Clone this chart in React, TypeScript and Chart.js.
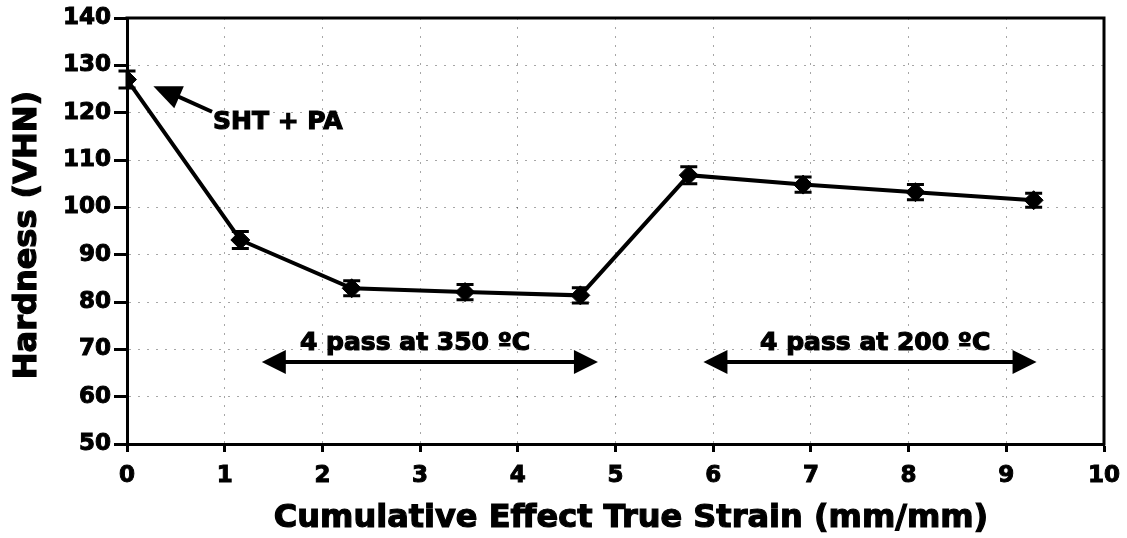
import React, { useEffect, useRef } from "react";
import { Chart, registerables } from "chart.js";

Chart.register(...registerables);

const strain = [0, 1.16, 2.3, 3.46, 4.64, 5.75, 6.92, 8.07, 9.28];
const hardness = [127, 93.1, 82.9, 82.1, 81.4, 106.8, 104.8, 103.2, 101.5];
const hardnessError = [1.8, 1.8, 1.6, 1.6, 1.6, 1.8, 1.6, 1.6, 1.5];
const xTickValues = [0, 1, 2, 3, 4, 5, 6, 7, 8, 9, 10];
const yTickValues = [50, 60, 70, 80, 90, 100, 110, 120, 130, 140];

const xAxisTitle = "Cumulative Effect True Strain (mm/mm)";
const yAxisTitle = "Hardness (VHN)";
const annotationTexts = ["SHT + PA", "4 pass at 350 ºC", "4 pass at 200 ºC"];

const FONT = "'DejaVu Sans', 'Liberation Sans', Arial, sans-serif";

const heavyText = (ctx: any, text: string, x: number, y: number) => {
  ctx.fillText(text, x, y);
  ctx.strokeText(text, x, y);
};

const frameAndErrors = {
  id: "frameAndErrors",
  beforeDatasetsDraw(chart: any) {
    const { ctx, scales } = chart;
    const xs = scales.x;
    const ys = scales.y;
    ctx.save();
    ctx.strokeStyle = "#000";
    ctx.lineWidth = 3;
    strain.forEach((sx, i) => {
      const px = xs.getPixelForValue(sx);
      const top = ys.getPixelForValue(hardness[i] + hardnessError[i]);
      const bot = ys.getPixelForValue(hardness[i] - hardnessError[i]);
      ctx.beginPath();
      ctx.moveTo(px, top);
      ctx.lineTo(px, bot);
      ctx.moveTo(px - 8.5, top);
      ctx.lineTo(px + 8.5, top);
      ctx.moveTo(px - 8.5, bot);
      ctx.lineTo(px + 8.5, bot);
      ctx.stroke();
    });
    ctx.restore();
  },
  afterDraw(chart: any) {
    const { ctx, chartArea, scales } = chart;
    const xs = scales.x;
    const ys = scales.y;
    ctx.save();
    ctx.strokeStyle = "#000";
    ctx.lineWidth = 3;
    ctx.beginPath();
    ctx.moveTo(chartArea.left - 1.5, chartArea.top);
    ctx.lineTo(chartArea.right, chartArea.top);
    ctx.lineTo(chartArea.right, chartArea.bottom + 1.5);
    ctx.stroke();

    const px = (v: number) => xs.getPixelForValue(v);
    const py = (v: number) => ys.getPixelForValue(v);

    const head = (tx: number, ty: number, fx: number, fy: number, len: number, half: number) => {
      const ang = Math.atan2(ty - fy, tx - fx);
      const bx = tx - len * Math.cos(ang);
      const by = ty - len * Math.sin(ang);
      ctx.beginPath();
      ctx.moveTo(tx, ty);
      ctx.lineTo(bx + half * Math.sin(ang), by - half * Math.cos(ang));
      ctx.lineTo(bx - half * Math.sin(ang), by + half * Math.cos(ang));
      ctx.closePath();
      ctx.fill();
    };

    ctx.fillStyle = "#000";
    ctx.lineWidth = 4;

    const t1x = px(0.27), t1y = py(125.6);
    const f1x = px(0.87), f1y = py(120.2);
    ctx.beginPath();
    ctx.moveTo(f1x, f1y);
    ctx.lineTo(t1x + 15, t1y + 6);
    ctx.stroke();
    head(t1x, t1y, f1x, f1y, 28, 12);

    const dbl = (x1: number, x2: number, yv: number) => {
      const a = px(x1), b = px(x2), y = py(yv);
      ctx.beginPath();
      ctx.moveTo(a + 10, y);
      ctx.lineTo(b - 10, y);
      ctx.stroke();
      head(a, y, b, y, 24, 12);
      head(b, y, a, y, 24, 12);
    };
    dbl(1.38, 4.82, 67.3);
    dbl(5.9, 9.31, 67.3);

    ctx.textBaseline = "middle";
    ctx.textAlign = "left";
    ctx.lineWidth = 1.2;
    ctx.font = `bold 25px ${FONT}`;
    heavyText(ctx, annotationTexts[0], px(0.88), py(118.0));
    heavyText(ctx, annotationTexts[1], px(1.77), py(71.3));
    heavyText(ctx, annotationTexts[2], px(6.48), py(71.3));

    ctx.textAlign = "center";
    ctx.font = `bold 32px ${FONT}`;
    heavyText(ctx, xAxisTitle, 631, 519);
    ctx.translate(28, (chartArea.top + chartArea.bottom) / 2 + 4);
    ctx.rotate(-Math.PI / 2);
    heavyText(ctx, yAxisTitle, 0, 0);
    ctx.restore();
  },
};

export default function App() {
  const ref = useRef<HTMLCanvasElement | null>(null);
  useEffect(() => {
    document.body.style.margin = "0";
    const canvas = ref.current;
    if (!canvas) return;
    const gridOpts = {
      color: "rgba(0,0,0,0.35)",
      lineWidth: 1,
      tickColor: "#000",
      tickWidth: 3,
      tickBorderDash: [],
    };
    const tickFont = { family: FONT, size: 23, weight: "bold" as const };
    const chart = new Chart(canvas, {
      type: "line",
      data: {
        datasets: [
          {
            data: strain.map((x, i) => ({ x, y: hardness[i] })),
            borderColor: "#000",
            backgroundColor: "#000",
            borderWidth: 4,
            pointStyle: "rectRot",
            pointRadius: 9.5,
            pointBackgroundColor: "#000",
            pointBorderColor: "#000",
            pointBorderWidth: 1,
            tension: 0,
          },
        ],
      },
      options: {
        responsive: false,
        animation: false,
        events: [],
        layout: { padding: { top: 18, right: 23, left: 0, bottom: 0 } },
        plugins: { legend: { display: false }, tooltip: { enabled: false } },
        scales: {
          x: {
            type: "linear",
            min: 0,
            max: 10,
            afterBuildTicks: (axis: any) => {
              axis.ticks = xTickValues.map((v) => ({ value: v }));
            },
            afterFit: (axis: any) => {
              axis.height = 94;
              axis.paddingLeft = 0;
              axis.paddingRight = 0;
            },
            grid: { ...gridOpts, tickLength: 8 },
            border: { display: true, color: "#000", width: 3, dash: [2, 7] },
            ticks: {
              color: "#000",
              font: tickFont,
              padding: 10,
              maxRotation: 0,
              autoSkip: false,
              textStrokeColor: "#000",
              textStrokeWidth: 1,
            },
            title: { display: false },
          },
          y: {
            type: "linear",
            min: 50,
            max: 140,
            afterBuildTicks: (axis: any) => {
              axis.ticks = yTickValues.map((v) => ({ value: v }));
            },
            afterFit: (axis: any) => {
              axis.width = 127;
            },
            grid: { ...gridOpts, tickLength: 13 },
            border: { display: true, color: "#000", width: 3, dash: [2, 7] },
            ticks: {
              color: "#000",
              font: tickFont,
              padding: 3,
              autoSkip: false,
              textStrokeColor: "#000",
              textStrokeWidth: 1,
            },
            title: { display: false },
          },
        },
      },
      plugins: [frameAndErrors],
    });
    return () => chart.destroy();
  }, []);
  return (
    <div style={{ width: 1127, height: 538, background: "#fff" }}>
      <canvas ref={ref} width={1127} height={538} style={{ display: "block" }} />
    </div>
  );
}
